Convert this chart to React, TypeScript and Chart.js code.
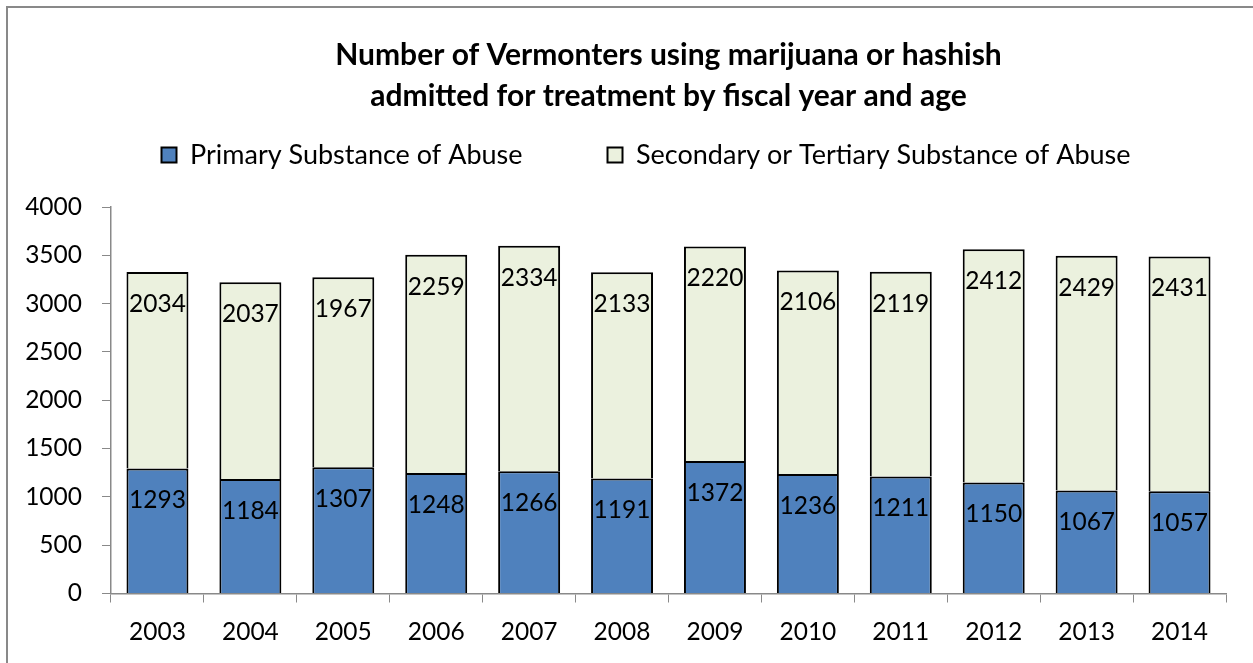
import React, { useEffect, useRef } from "react";
import { Chart, registerables } from "chart.js";

Chart.register(...registerables);

const titleLines = [
  "Number of Vermonters using marijuana or hashish",
  "admitted for treatment by fiscal year and age",
];
const categories = ["2003", "2004", "2005", "2006", "2007", "2008", "2009", "2010", "2011", "2012", "2013", "2014"];
const primaryLabel = "Primary Substance of Abuse";
const secondaryLabel = "Secondary or Tertiary Substance of Abuse";
const primaryValues = [1293, 1184, 1307, 1248, 1266, 1191, 1372, 1236, 1211, 1150, 1067, 1057];
const secondaryValues = [2034, 2037, 1967, 2259, 2334, 2133, 2220, 2106, 2119, 2412, 2429, 2431];
const yMax = 4000;
const yStep = 500;

const FONT = "Lato, 'Noto Sans', sans-serif";
const AXIS_GRAY = "#898989";

const barLabelPlugin = {
  id: "barLabels",
  afterDatasetsDraw(chart: any) {
    const { ctx } = chart;
    ctx.save();
    ctx.font = `24.5px ${FONT}`;
    ctx.fillStyle = "#000";
    ctx.textAlign = "center";
    ctx.textBaseline = "middle";
    chart.data.datasets.forEach((ds: any, di: number) => {
      const meta = chart.getDatasetMeta(di);
      meta.data.forEach((el: any, i: number) => {
        ctx.fillText(String(ds.data[i]), el.x, el.y + 32);
      });
    });
    ctx.restore();
  },
};

// Legend spans from a left inset to the chart's right edge, so it is centred like the original.
const legendSpanPlugin = {
  id: "legendSpan",
  afterLayout(chart: any) {
    const lg = chart.legend;
    if (!lg) return;
    lg.left = 66;
    lg.width = lg.right - lg.left;
  },
};

export default function App() {
  const ref = useRef<HTMLCanvasElement>(null);
  useEffect(() => {
    if (!ref.current) return;
    const chart = new Chart(ref.current, {
      type: "bar",
      data: {
        labels: categories,
        datasets: [
          {
            label: primaryLabel,
            data: primaryValues,
            backgroundColor: "#4F81BD",
            borderColor: "#000",
            borderWidth: 2,
            barPercentage: 0.667,
            categoryPercentage: 1,
            xAxisID: "x",
            yAxisID: "y",
          },
          {
            label: secondaryLabel,
            data: secondaryValues,
            backgroundColor: "#EBF1DE",
            borderColor: "#000",
            borderWidth: 2,
            barPercentage: 0.667,
            categoryPercentage: 1,
            xAxisID: "x",
            yAxisID: "y",
          },
        ],
      },
      options: {
        animation: false,
        responsive: false,
        maintainAspectRatio: false,
        layout: { padding: { left: 0, right: 27, top: 0, bottom: 0 } },
        plugins: {
          tooltip: { enabled: false },
          title: {
            display: true,
            text: titleLines,
            color: "#000",
            fullSize: false,
            font: { family: FONT, size: 30, weight: "bold", lineHeight: 41 / 30 },
            padding: { top: 34.5, bottom: -60 },
          },
          legend: {
            display: true,
            position: "top",
            labels: {
              color: "#000",
              font: { family: FONT, size: 27 },
              boxWidth: 15,
              boxHeight: 15,
              padding: 85,
            },
          },
        },
        scales: {
          x: {
            type: "category",
            position: "bottom",
            stacked: true,
            offset: true,
            grid: {
              display: true,
              offset: true,
              drawOnChartArea: false,
              drawTicks: true,
              tickLength: 9,
              color: AXIS_GRAY,
            },
            border: { display: true, color: AXIS_GRAY, width: 1.5 },
            ticks: { color: "#000", font: { family: FONT, size: 24.5 }, padding: 15, maxRotation: 0 },
            afterFit(s: any) {
              s.height = 69.5;
            },
          },
          gap: {
            type: "category",
            axis: "x",
            position: "top",
            display: true,
            grid: { display: false, drawTicks: false },
            border: { display: false },
            ticks: { display: false },
            afterFit(s: any) {
              s.height = 28.5;
            },
          },
          y: {
            type: "linear",
            position: "left",
            stacked: true,
            min: 0,
            max: yMax,
            ticks: {
              stepSize: yStep,
              color: "#000",
              font: { family: FONT, size: 24.5 },
              padding: 20,
              callback: (v: any) => String(v),
            },
            grid: {
              display: true,
              drawOnChartArea: false,
              drawTicks: true,
              tickLength: 9,
              color: AXIS_GRAY,
            },
            border: { display: true, color: AXIS_GRAY, width: 1.5 },
            afterFit(s: any) {
              s.width = 111;
            },
          },
        },
      } as any,
      plugins: [barLabelPlugin, legendSpanPlugin],
    });
    return () => chart.destroy();
  }, []);

  return (
    <div
      style={{
        position: "fixed",
        left: 0,
        top: 0,
        width: 1253,
        height: 663,
        overflow: "hidden",
        background: "#fff",
      }}
    >
      <div
        style={{
          position: "absolute",
          left: 6,
          top: 6,
          width: 1300,
          height: 700,
          borderTop: `2px solid ${AXIS_GRAY}`,
          borderLeft: `2px solid ${AXIS_GRAY}`,
        }}
      />
      <canvas
        ref={ref}
        width={1253}
        height={663}
        style={{ position: "absolute", left: 0, top: 0, width: 1253, height: 663 }}
      />
    </div>
  );
}
